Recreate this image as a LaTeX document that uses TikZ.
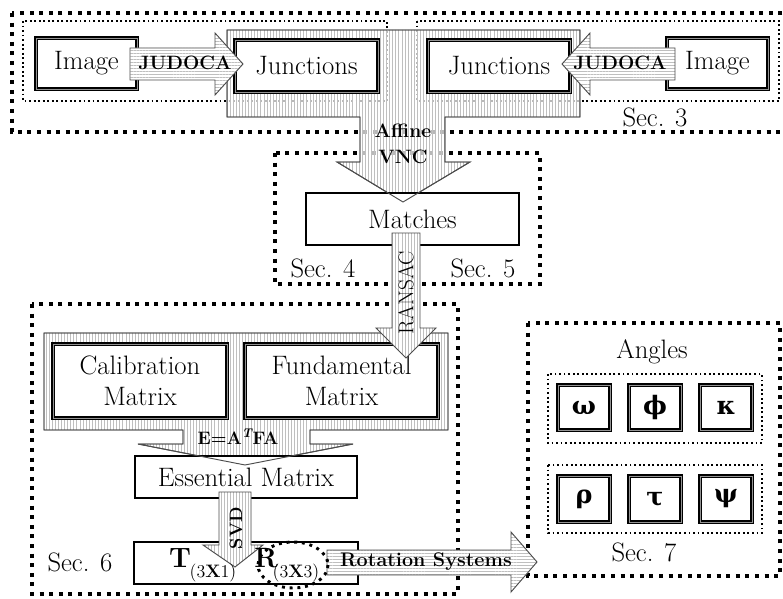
\documentclass[tikz,border=0pt]{standalone}
\usepackage{fontspec}
\newfontfamily\greekfont{DejaVu Serif}
\usetikzlibrary{patterns.meta}
\tikzset{
  bigdot/.style={line width=3pt, dash pattern=on 3pt off 4.2pt},
  smalldot/.style={line width=1.4pt, dash pattern=on 1.4pt off 2pt},
  dbox/.style={draw, fill=white, double=gray!85, double distance=0.35pt, line width=1pt, inner sep=0pt, align=center, font=\fontsize{20}{23}\selectfont},
  sbox/.style={draw, fill=white, line width=1.4pt, inner sep=0pt, align=center, font=\fontsize{20}{23}\selectfont},
  gbox/.style={draw, fill=white, double=gray!85, double distance=0.35pt, line width=1pt, inner sep=0pt, minimum width=39pt, font=\greekfont\bfseries\fontsize{19}{21}\selectfont},
  seclabel/.style={inner sep=0pt, font=\fontsize{20}{23}\selectfont},
  vhatch/.style={pattern={Lines[angle=90,distance=2.3pt,line width=0.35pt]}, pattern color=gray!50},
  hhatch/.style={pattern={Lines[angle=0,distance=2.3pt,line width=0.35pt]}, pattern color=gray!50},
  arrline/.style={draw=black!70, line width=0.7pt},
  arrlabel/.style={inner sep=0pt, font=\bfseries\fontsize{14.5}{16}\selectfont},
}
\def\affpath{(227,30) -- (580,30) -- (580,117) -- (445,117) -- (445,162) -- (470,162) -- (403,202) -- (337,162) -- (360,162) -- (360,117) -- (227,117) -- cycle}
\def\epath{(44,333) -- (448,333) -- (448,430) -- (310,430) -- (310,444) -- (353,444) -- (245,465) -- (138,444) -- (183,444) -- (183,430) -- (44,430) -- cycle}
\def\ranpath{(392,233) -- (420,233) -- (420,328) -- (436,328) -- (406,358) -- (376,328) -- (392,328) -- cycle}
\def\svdpath{(219,492) -- (251,492) -- (251,545) -- (263,545) -- (235,567) -- (203,545) -- (219,545) -- cycle}
\def\rotpath{(327,550) -- (511,550) -- (511,532) -- (537,562) -- (511,592) -- (511,575) -- (327,575) -- cycle}
\def\judlpath{(130,48) -- (215,48) -- (215,33) -- (243,64) -- (215,95) -- (215,80) -- (130,80) -- cycle}
\def\judrpath{(675,48) -- (590,48) -- (590,33) -- (562,64) -- (590,95) -- (590,80) -- (675,80) -- cycle}
\begin{document}
\begin{tikzpicture}[x=0.75pt,y=-0.75pt]
\useasboundingbox (0,0) rectangle (783,599);
% section frames
\draw[bigdot] (12,13) rectangle (787,132);
\draw[smalldot] (23,21) rectangle (387,101);
\draw[smalldot] (417,21) rectangle (779,101);
\draw[bigdot] (275,153) rectangle (540,284);
\draw[bigdot] (32,304) rectangle (458,594);
\draw[bigdot] (528,323) rectangle (780,576);
\draw[smalldot] (548,374) rectangle (762,443);
\draw[smalldot] (548,465) rectangle (762,533);
% big hatched arrows
\path[fill=white, fill opacity=0.72] \affpath;
\path[vhatch] \affpath;
\draw[arrline] \affpath;
\path[fill=white] \epath;
\path[vhatch] \epath;
\draw[arrline] \epath;
% boxes
\node[dbox, minimum width=75.75pt, minimum height=38.25pt] (imgL) at (86.5,63.5) {Image};
\node[dbox, minimum width=107.25pt, minimum height=39pt] (junL) at (306.5,66) {Junctions};
\node[dbox, minimum width=106.5pt, minimum height=39pt] (junR) at (499,66) {Junctions};
\node[dbox, minimum width=75.75pt, minimum height=38.25pt] (imgR) at (717.5,63.5) {Image};
\node[sbox, minimum width=159.75pt, minimum height=39pt] (match) at (412.5,219) {Matches};
\node[dbox, minimum width=130.5pt, minimum height=55.5pt] (calib) at (140,381) {Calibration\\Matrix};
\node[dbox, minimum width=144.75pt, minimum height=55.5pt] (fund) at (341.5,381) {Fundamental\\Matrix};
\node[sbox, minimum width=166.5pt, minimum height=31.5pt] (ess) at (246,477) {Essential Matrix};
\node[sbox, minimum width=168pt, minimum height=31.5pt] (tr) at (246,563) {};
% arrow outlines over box tops
\draw[arrline] \affpath;
\draw[arrline] \epath;
\node[inner sep=0pt, font=\bfseries\fontsize{14.5}{19.5}\selectfont, align=center] (affine) at (403,144) {Affine\\VNC};
\node[inner sep=0pt, font=\bfseries\fontsize{13.5}{15}\selectfont] (eq) at (238,437) {E=A\textsuperscript{\itshape T}FA};
% small arrows
\path[fill=white] \ranpath; \path[vhatch] \ranpath; \draw[arrline] \ranpath;
\node[inner sep=0pt, rotate=90, font=\fontsize{16}{18}\selectfont] (ransac) at (406,293) {RANSAC};
\path[fill=white] \svdpath; \path[vhatch] \svdpath; \draw[arrline] \svdpath;
\node[inner sep=0pt, rotate=90, font=\bfseries\fontsize{13.5}{15}\selectfont] (svd) at (236,528) {SVD};
\path[fill=white] \rotpath; \path[hhatch] \rotpath; \draw[arrline] \rotpath;
\node[inner sep=0pt, font=\bfseries\fontsize{14.8}{16}\selectfont] (rot) at (426,562) {Rotation Systems};
\path[fill=white] \judlpath; \path[hhatch] \judlpath; \draw[arrline] \judlpath;
\node[arrlabel] (judl) at (185,63) {JUDOCA};
\path[fill=white] \judrpath; \path[hhatch] \judrpath; \draw[arrline] \judrpath;
\node[arrlabel] (judr) at (620,63) {JUDOCA};
% T and R
\node[inner sep=0pt, font=\bfseries\fontsize{21}{23}\selectfont] (T) at (180,558) {T};
\node[inner sep=0pt, font=\fontsize{13.5}{15}\selectfont] (Tsub) at (213,573) {(3\textbf{X}1)};
\node[inner sep=0pt, font=\bfseries\fontsize{21}{23}\selectfont] (R) at (266,558) {R};
\node[inner sep=0pt, font=\fontsize{13.5}{15}\selectfont] (Rsub) at (296,573) {(3\textbf{X}3)};
\draw[line width=2.2pt, dash pattern=on 2.2pt off 3.6pt] (293,565) ellipse [x radius=35, y radius=23];
% angles
\node[seclabel] (angles) at (652,352) {Angles};
\node[gbox, minimum height=33.75pt] (om) at (584,407.5) {ω};
\node[gbox, minimum height=33.75pt] (ph) at (655,407.5) {ϕ};
\node[gbox, minimum height=33.75pt] (ka) at (726,407.5) {κ};
\node[gbox, minimum height=34.5pt] (rh) at (584,499) {ρ};
\node[gbox, minimum height=34.5pt] (ta) at (655,499) {τ};
\node[gbox, minimum height=34.5pt] (ps) at (726,499) {ψ};
% section labels
\node[seclabel] (s3) at (655,117) {Sec. 3};
\node[seclabel] (s4) at (323,268) {Sec. 4};
\node[seclabel] (s5) at (483,268) {Sec. 5};
\node[seclabel] (s6) at (80,562) {Sec. 6};
\node[seclabel] (s7) at (644,552) {Sec. 7};
\end{tikzpicture}
\end{document}
